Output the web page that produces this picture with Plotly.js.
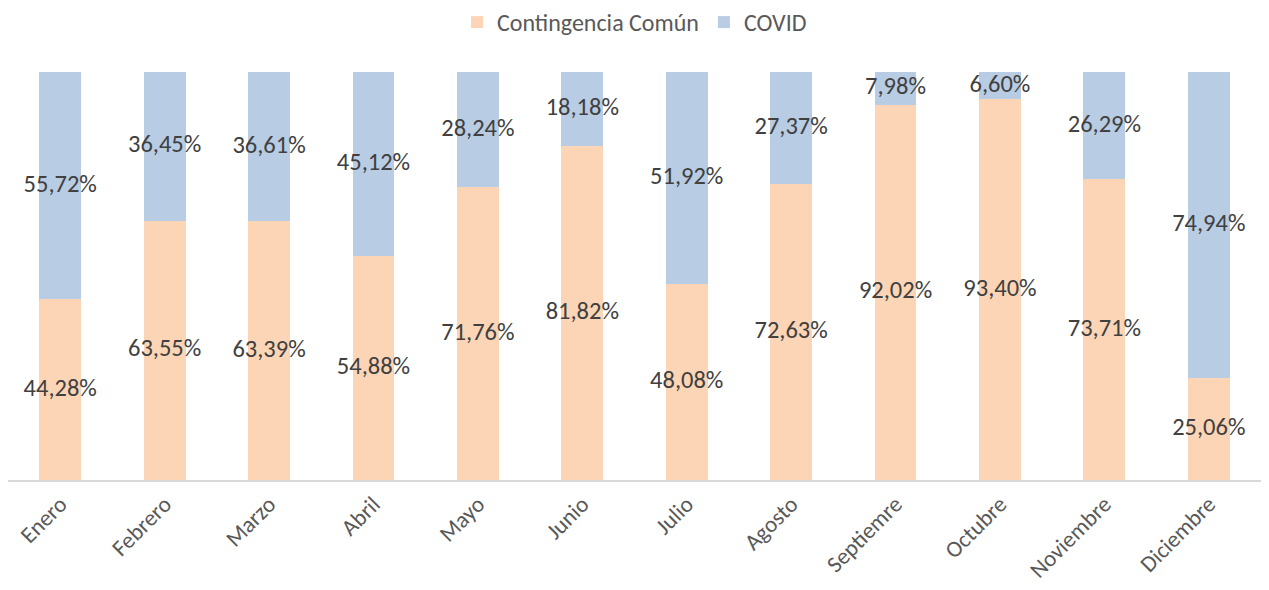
<!DOCTYPE html>
<html><head><meta charset="utf-8">
<script src="https://cdn.plot.ly/plotly-3.0.1.min.js"></script>
<style>html,body{margin:0;padding:0;background:#fff}#chart{width:1269px;height:590px}</style>
</head><body><div id="chart"></div>
<script>
const months = ["Enero","Febrero","Marzo","Abril","Mayo","Junio","Julio","Agosto","Septiemre","Octubre","Noviembre","Diciembre"];
const comun = [44.28,63.55,63.39,54.88,71.76,81.82,48.08,72.63,92.02,93.40,73.71,25.06];
const covid = [55.72,36.45,36.61,45.12,28.24,18.18,51.92,27.37,7.98,6.60,26.29,74.94];

const font = "Calibri, Carlito, 'Open Sans', 'Liberation Sans', sans-serif";
const fmt = v => v.toFixed(2).replace('.', ',') + '%';

const traces = [
  {type:'bar', name:'Contingencia Común', x:months, y:comun, marker:{color:'#FBD5B5'}, hoverinfo:'skip'},
  {type:'bar', name:'COVID', x:months, y:covid, marker:{color:'#B8CCE4'}, hoverinfo:'skip'},
  {type:'scatter', mode:'text', x:months, y:comun.map(v=>v/2), text:comun.map(fmt), showlegend:false,
   textfont:{size:24.5, color:'#404040', family:font}, hoverinfo:'skip', cliponaxis:false},
  {type:'scatter', mode:'text', x:months, y:covid.map((v,i)=>comun[i]+v/2), text:covid.map(fmt), showlegend:false,
   textfont:{size:24.5, color:'#404040', family:font}, hoverinfo:'skip', cliponaxis:false}
];

const layout = {
  width:1269, height:590, barmode:'stack', bargap:0.6,
  margin:{l:8, r:8, t:72, b:110},
  paper_bgcolor:'#fff', plot_bgcolor:'#fff',
  font:{family:font, color:'#595959', size:24},
  showlegend:true,
  legend:{orientation:'h', x:0.5, xanchor:'center', y:1, yanchor:'top', yref:'container', font:{size:24, color:'#595959'}, traceorder:'normal', itemwidth:30},
  xaxis:{range:[-0.5, 11.5], tickangle:-45, automargin:false, showline:true, linecolor:'#D9D9D9', linewidth:1.5, tickfont:{size:23, color:'#595959'}, showgrid:false, ticks:''},
  yaxis:{range:[0,100], visible:false, showgrid:false, zeroline:false, automargin:false}
};
Plotly.newPlot('chart', traces, layout, {displayModeBar:false});
</script></body></html>
